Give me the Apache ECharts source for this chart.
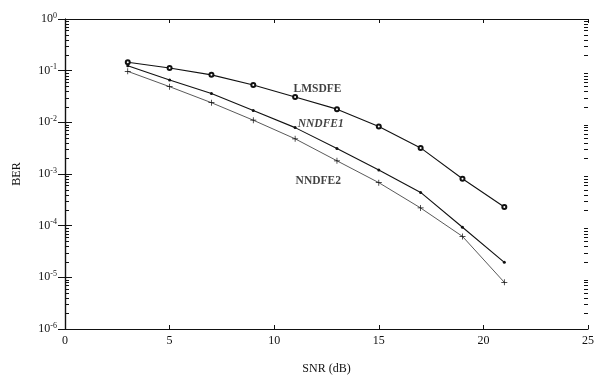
<!DOCTYPE html>
<html>
<head>
<meta charset="utf-8">
<script src="https://cdn.jsdelivr.net/npm/echarts@6/dist/echarts.min.js"></script>
<style>
  html, body { margin: 0; padding: 0; background: #fff; }
  #chart { width: 595px; height: 375px; }
</style>
</head>
<body>
<div id="chart"></div>
<script>
// SNR (dB) points
const snr = [3, 5, 7, 9, 11, 13, 15, 17, 19, 21]
// BER
const lmsdfe = [0.145, 0.113, 0.083, 0.053, 0.031, 0.018, 0.0083, 0.0032, 0.00081, 0.00023]
const nndfe1 = [0.125, 0.066, 0.036, 0.017, 0.0079, 0.0031, 0.0012, 0.00044, 0.000093, 0.0000195]
const nndfe2 = [0.097, 0.049, 0.024, 0.011, 0.0048, 0.0018, 0.00068, 0.00022, 0.000062, 0.0000080]
// minor ticks 2..9 x 10^n
const yMinor = []
for (let e = -6; e < 0; e++) {
  for (let m = 2; m <= 9; m++) yMinor.push(m * Math.pow(10, e))
}
// curve labels: [name, snr, ber, italic]
const curveLabels = [
  ['LMSDFE', 10.9, 0.045, false],
  ['NNDFE1', 11.1, 0.0094, true],
  ['NNDFE2', 11.0, 0.00072, false]
]

const font = '"Liberation Serif", "DejaVu Serif", serif'
const ink = '#111'

const chart = echarts.init(document.getElementById('chart'))

const pair = arr => snr.map((x, i) => [x, arr[i]])

const option = {
  backgroundColor: '#fff',
  animation: false,
  grid: { left: 65, right: 7, top: 19, bottom: 46, containLabel: false, outerBoundsMode: 'none' },
  xAxis: [
    {
      type: 'value',
      min: 0,
      max: 25,
      interval: 5,
      name: 'SNR (dB)',
      nameLocation: 'middle',
      nameGap: 34,
      nameTextStyle: { fontFamily: font, fontSize: 12, color: ink },
      axisLine: { lineStyle: { color: ink, width: 1.2 } },
      axisTick: { inside: true, length: 4, lineStyle: { color: ink } },
      axisLabel: { fontFamily: font, fontSize: 12, color: ink, margin: 6 },
      splitLine: { show: false }
    },
    {
      type: 'value',
      position: 'top',
      min: 0,
      max: 25,
      interval: 5,
      axisLine: { lineStyle: { color: ink, width: 1.2 } },
      axisTick: { inside: true, length: 4, lineStyle: { color: ink } },
      axisLabel: { show: false },
      splitLine: { show: false }
    }
  ],
  yAxis: [
    {
      type: 'log',
      logBase: 10,
      min: 1e-6,
      max: 1,
      position: 'left',
      name: 'BER',
      nameLocation: 'middle',
      nameRotate: 90,
      nameGap: 42,
      nameTextStyle: { fontFamily: font, fontSize: 12, color: ink },
      splitLine: { show: false },
      axisLine: { show: true, lineStyle: { color: ink, width: 1.2 } },
      axisTick: { inside: true, length: 7, lineStyle: { color: ink } },
      axisLabel: {
        color: ink,
        margin: 8,
        formatter: v => '{b|10}{s|' + Math.round(Math.log10(v)) + '}',
        rich: {
          b: { fontFamily: font, fontSize: 12, color: ink },
          s: { fontFamily: font, fontSize: 8, color: ink, padding: [0, 0, 7, 0] }
        }
      }
    },
    {
      type: 'log',
      logBase: 10,
      min: 1e-6,
      max: 1,
      position: 'right',
      splitLine: { show: false },
      axisLine: { show: true, lineStyle: { color: ink, width: 1.2 } },
      axisTick: { inside: true, length: 7, lineStyle: { color: ink } },
      axisLabel: { show: false }
    }
  ],
  series: [
    {
      name: 'LMSDFE',
      type: 'line',
      data: pair(lmsdfe),
      symbol: 'emptyCircle',
      symbolSize: 4,
      lineStyle: { color: ink, width: 1.1 },
      itemStyle: { color: ink, borderWidth: 0.8 }
    },
    {
      name: 'NNDFE1',
      type: 'line',
      data: pair(nndfe1),
      symbol: 'circle',
      symbolSize: 3,
      lineStyle: { color: ink, width: 1.1 },
      itemStyle: { color: ink }
    },
    {
      name: 'NNDFE2',
      type: 'line',
      data: pair(nndfe2),
      symbol: 'path://M4.4,0H5.6V4.4H10V5.6H5.6V10H4.4V5.6H0V4.4H4.4Z',
      symbolSize: 6,
      lineStyle: { color: ink, width: 0.7 },
      itemStyle: { color: ink }
    },
    // curve name labels
    {
      type: 'scatter',
      data: curveLabels.map(([t, x, y, it]) => ({
        value: [x, y],
        label: {
          show: true,
          position: 'right',
          distance: 0,
          formatter: t,
          fontFamily: font,
          fontSize: 11.5,
          fontWeight: 'bold',
          fontStyle: it ? 'italic' : 'normal',
          color: ink
        }
      })),
      symbolSize: 1,
      itemStyle: { color: 'rgba(0,0,0,0)' },
      silent: true
    }
  ]
}

chart.setOption(option)

// minor log ticks on both frame sides, placed through the axis scale
const xl = chart.convertToPixel({ xAxisIndex: 0 }, 0)
const xr = chart.convertToPixel({ xAxisIndex: 0 }, 25)
const ticks = []
yMinor.forEach(v => {
  const y = Math.round(chart.convertToPixel({ yAxisIndex: 0 }, v)) + 0.5
  ticks.push({ type: 'line', z: 100, silent: true, shape: { x1: xl, y1: y, x2: xl + 4, y2: y }, style: { stroke: ink, lineWidth: 1 } })
  ticks.push({ type: 'line', z: 100, silent: true, shape: { x1: xr, y1: y, x2: xr - 4, y2: y }, style: { stroke: ink, lineWidth: 1 } })
})
chart.setOption({ graphic: ticks })
</script>
</body>
</html>
